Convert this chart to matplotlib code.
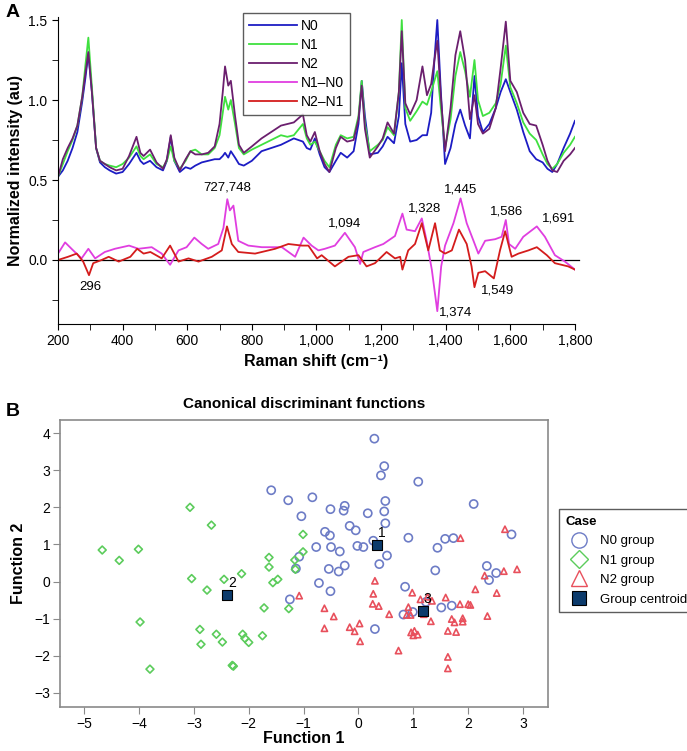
import numpy as np
import matplotlib
matplotlib.use('Agg')
import matplotlib.pyplot as plt
from matplotlib.ticker import FuncFormatter, MultipleLocator
from matplotlib.lines import Line2D

plt.rcParams['font.family'] = ['Liberation Sans', 'DejaVu Sans']

# ---- panel A: Raman spectra ----
shift = [200, 215, 230, 245, 260, 275, 285, 294, 305, 318, 330, 345, 360, 380, 400,
         420, 443, 455, 465, 485, 505, 525, 537, 549, 560, 577, 595, 610, 625, 645,
         665, 685, 700, 710, 717, 727, 735, 748, 760, 775, 800, 830, 860, 890, 910,
         930, 958, 970, 981, 995, 1010, 1025, 1040, 1060, 1075, 1095, 1115, 1130, 1140, 1150,
         1165, 1190, 1205, 1220, 1240, 1255, 1264, 1275, 1290, 1310, 1328, 1342, 1355, 1365, 1374,
         1385, 1398, 1415, 1430, 1445, 1460, 1475, 1489, 1500, 1515, 1535, 1555, 1570, 1586, 1600,
         1620, 1640, 1660, 1680, 1700, 1715, 1730, 1745, 1765, 1785, 1800]
n0 = [0.52, 0.56, 0.62, 0.70, 0.80, 0.99, 1.14, 1.29, 1.05, 0.70, 0.61, 0.58, 0.56, 0.54, 0.55,
      0.60, 0.67, 0.62, 0.60, 0.62, 0.58, 0.56, 0.62, 0.77, 0.62, 0.55, 0.58, 0.57, 0.59, 0.61,
      0.62, 0.63, 0.63, 0.65, 0.67, 0.64, 0.68, 0.64, 0.60, 0.59, 0.62, 0.68, 0.70, 0.72, 0.74,
      0.76, 0.74, 0.70, 0.69, 0.76, 0.66, 0.58, 0.55, 0.62, 0.67, 0.64, 0.68, 0.85, 1.12, 0.90,
      0.66, 0.67, 0.71, 0.77, 0.73, 0.90, 1.23, 0.85, 0.74, 0.75, 0.78, 0.78, 0.92, 1.25, 1.50,
      1.05, 0.60, 0.70, 0.85, 0.94, 0.84, 0.76, 1.15, 0.90, 0.80, 0.85, 0.95, 1.05, 1.13, 1.05,
      0.94, 0.80, 0.68, 0.63, 0.61, 0.57, 0.55, 0.60, 0.70, 0.79, 0.87]
n1 = [0.52, 0.60, 0.68, 0.75, 0.84, 1.02, 1.22, 1.39, 1.08, 0.70, 0.62, 0.60, 0.59, 0.58, 0.60,
      0.64, 0.71, 0.65, 0.63, 0.66, 0.60, 0.58, 0.62, 0.71, 0.62, 0.57, 0.62, 0.68, 0.69, 0.66,
      0.66, 0.70, 0.78, 0.92, 1.02, 0.94, 1.00, 0.85, 0.70, 0.66, 0.69, 0.72, 0.75, 0.78, 0.77,
      0.78, 0.85, 0.76, 0.72, 0.74, 0.68, 0.62, 0.58, 0.72, 0.78, 0.76, 0.77, 0.90, 1.12, 0.85,
      0.68, 0.72, 0.75, 0.83, 0.78, 1.05, 1.50, 0.95, 0.87, 0.93, 0.99, 0.97, 1.05, 1.12, 1.18,
      0.95, 0.70, 0.88, 1.15, 1.30, 1.18, 1.02, 1.25, 1.00, 0.90, 0.92, 0.98, 1.10, 1.34, 1.08,
      0.98, 0.86, 0.79, 0.75, 0.66, 0.60, 0.57, 0.60, 0.67, 0.72, 0.77]
n2 = [0.52, 0.63, 0.70, 0.76, 0.84, 1.02, 1.17, 1.30, 1.05, 0.70, 0.62, 0.60, 0.58, 0.56, 0.57,
      0.65, 0.77, 0.67, 0.65, 0.69, 0.61, 0.57, 0.63, 0.78, 0.64, 0.56, 0.63, 0.68, 0.66, 0.66,
      0.67, 0.71, 0.85, 1.05, 1.21, 1.09, 1.12, 0.90, 0.72, 0.67, 0.71, 0.76, 0.80, 0.84, 0.85,
      0.86, 0.91, 0.78, 0.74, 0.80, 0.68, 0.60, 0.55, 0.70, 0.77, 0.74, 0.75, 0.88, 1.09, 0.82,
      0.64, 0.71, 0.76, 0.86, 0.79, 1.05, 1.43, 0.98, 0.91, 1.00, 1.21, 1.03, 1.10, 1.25, 1.37,
      1.02, 0.68, 0.95, 1.28, 1.43, 1.25, 0.88, 1.03, 0.85, 0.79, 0.82, 0.95, 1.20, 1.49, 1.12,
      1.05, 0.92, 0.85, 0.84, 0.72, 0.62, 0.56, 0.55, 0.62, 0.66, 0.70]

diff_shift = [200, 222, 247, 273, 294, 315, 345, 376, 420, 449, 490, 521, 547, 573, 598,
              622, 645, 665, 696, 712, 724, 732, 743, 758, 789, 831, 893, 934, 960, 985,
              1006, 1026, 1057, 1088, 1119, 1135, 1145, 1181, 1207, 1243, 1266, 1279, 1305, 1326, 1341,
              1357, 1374, 1386, 1398, 1424, 1446, 1465, 1486, 1501, 1522, 1553, 1573, 1586, 1596, 1615,
              1640, 1682, 1707, 1738, 1769, 1800]
n1_n0 = [0.04, 0.11, 0.06, 0.01, 0.07, 0.01, 0.05, 0.07, 0.09, 0.07, 0.08, 0.04, -0.03, 0.06, 0.08,
         0.14, 0.10, 0.07, 0.10, 0.20, 0.38, 0.31, 0.34, 0.12, 0.09, 0.08, 0.08, 0.02, 0.14, 0.09,
         0.06, 0.07, 0.09, 0.17, 0.08, -0.025, 0.05, 0.08, 0.10, 0.15, 0.29, 0.19, 0.18, 0.26, 0.12,
         -0.06, -0.32, -0.04, 0.09, 0.23, 0.385, 0.23, 0.12, 0.04, 0.12, 0.13, 0.145, 0.25, 0.10, 0.07,
         0.145, 0.21, 0.145, 0.03, -0.01, -0.06]
red_shift = [200, 231, 258, 278, 296, 309, 335, 357, 388, 424, 445, 465, 486, 521, 547,
             573, 604, 635, 676, 707, 723, 738, 758, 810, 872, 913, 955, 975, 1002, 1016,
             1057, 1099, 1130, 1155, 1181, 1217, 1243, 1259, 1266, 1284, 1305, 1326, 1346, 1367, 1382,
             1398, 1419, 1441, 1465, 1480, 1489, 1501, 1522, 1549, 1568, 1584, 1604, 1625, 1656, 1682,
             1713, 1738, 1779, 1800]
n2_n1 = [0.0, 0.02, 0.04, -0.01, -0.095, -0.02, 0.0, 0.02, -0.01, 0.02, 0.07, 0.04, 0.05, 0.01, 0.09,
         -0.01, 0.01, -0.01, 0.02, 0.06, 0.21, 0.10, 0.05, 0.04, 0.07, 0.10, 0.09, 0.09, 0.01, 0.03,
         -0.04, 0.02, 0.03, -0.04, -0.02, 0.05, 0.01, 0.02, -0.06, 0.06, 0.10, 0.23, 0.06, 0.23, 0.06,
         0.04, 0.06, 0.19, 0.10, -0.04, -0.17, -0.08, -0.07, -0.115, 0.06, 0.18, 0.02, 0.04, 0.06, 0.08,
         0.03, -0.02, -0.04, -0.06]

peak_labels = ['727,748', '296', '1,094', '1,328', '1,445', '1,586', '1,691', '1,374', '1,549']
peak_x = [724, 299, 1088, 1334, 1446, 1589, 1749, 1429, 1561]
peak_y = [0.45, -0.17, 0.23, 0.32, 0.44, 0.30, 0.26, -0.33, -0.19]

# ---- panel B: discriminant scores ----
n0_f1 = [0.29, 0.47, 0.41, 1.09, -0.84, 2.10, 0.49, -1.59, -1.28, -0.51, -0.25, -0.27, 0.17, 0.47, 0.49,
         -1.04, -0.16, -0.05, -0.61, -0.52, -0.77, -0.50, -0.34, -0.02, 0.09, 0.27, 0.52, 0.38, -0.25, -0.54,
         -0.36, -0.72, -0.51, -1.08, -1.14, -1.25, 0.91, 1.58, 1.73, 1.44, 1.40, 0.85, 2.79, 2.34, 2.51,
         2.38, 1.51, 1.70, 0.82, 0.99, 1.23, 0.30]
n0_f2 = [3.85, 3.11, 2.86, 2.69, 2.27, 2.09, 2.17, 2.46, 2.19, 1.95, 2.04, 1.91, 1.84, 1.89, 1.57,
         1.76, 1.50, 1.38, 1.34, 1.24, 0.93, 0.93, 0.81, 0.96, 0.93, 1.10, 0.70, 0.47, 0.43, 0.34,
         0.27, -0.04, -0.26, 0.67, 0.35, -0.48, 1.18, 1.15, 1.17, 0.91, 0.30, -0.14, 1.27, 0.42, 0.23,
         0.04, -0.70, -0.65, -0.89, -0.82, -0.55, -1.28]
n1_f1 = [-3.07, -2.68, -4.67, -4.36, -4.01, -3.04, -2.76, -2.45, -2.13, -1.63, -1.63, -1.47, -1.56, -1.72, -1.27,
         -3.98, -2.89, -2.59, -2.87, -2.48, -2.11, -2.07, -2.00, -1.75, -3.80, -2.30, -2.28, -1.16, -1.01, -1.01,
         -1.15]
n1_f2 = [2.00, 1.52, 0.85, 0.57, 0.87, 0.08, -0.23, 0.06, 0.21, 0.65, 0.39, 0.06, -0.03, -0.71, -0.73,
         -1.09, -1.29, -1.42, -1.69, -1.63, -1.42, -1.53, -1.64, -1.46, -2.36, -2.26, -2.28, 0.58, 1.27, 0.80,
         0.33]
n2_f1 = [2.67, 1.86, 2.89, 2.65, 2.30, 2.13, 2.52, 2.35, 2.00, 2.04, 1.85, 1.59, 1.70, 1.75, 1.90,
         1.90, 1.63, 1.78, 1.63, 1.63, 1.26, 1.34, 1.13, 0.98, 0.91, 0.88, 0.95, 1.19, 1.32, 0.96,
         1.02, 1.08, 1.00, 0.73, 0.30, 0.27, 0.26, 0.37, 0.56, 0.02, -0.16, -0.07, 0.03, -0.45, -0.62,
         -0.62, -1.08]
n2_f2 = [1.41, 1.17, 0.33, 0.28, 0.16, -0.21, -0.31, -0.93, -0.61, -0.63, -0.61, -0.43, -1.01, -1.10, -0.99,
         -1.08, -1.33, -1.36, -2.03, -2.34, -0.41, -0.52, -0.48, -0.30, -0.69, -0.90, -0.90, -0.88, -1.07, -1.37,
         -1.33, -1.43, -1.45, -1.86, 0.02, -0.33, -0.60, -0.66, -0.88, -1.13, -1.23, -1.34, -1.61, -0.94, -0.72,
         -1.26, -0.38]
centroid_f1 = [0.33, -2.39, 1.17]
centroid_f2 = [0.99, -0.37, -0.79]
centroid_names = ['1', '2', '3']

fig = plt.figure(figsize=(6.87, 7.51), dpi=100)

# ================= A =================
ax = fig.add_axes([0.0844, 0.5686, 0.7525, 0.409])
ax.plot(shift, n0, color='#1c1cc4', lw=1.3, label='N0')
ax.plot(shift, n1, color='#3fe03f', lw=1.3, label='N1')
ax.plot(shift, n2, color='#6b1f6e', lw=1.3, label='N2')
ax.plot(diff_shift, n1_n0, color='#e03ee0', lw=1.3, label='N1\u2013N0')
ax.plot(red_shift, n2_n1, color='#d41c1c', lw=1.3, label='N2\u2013N1')
ax.plot([200, 1812], [0, 0], color='black', lw=0.9, clip_on=False, zorder=1)

for lab, px, py in zip(peak_labels, peak_x, peak_y):
    ax.text(px, py, lab, ha='center', va='center', fontsize=9.5)

ax.set_xlim(200, 1800)
ax.set_ylim(-0.4, 1.52)
ax.spines['top'].set_visible(False)
ax.spines['right'].set_visible(False)
ax.xaxis.set_major_locator(MultipleLocator(200))
ax.xaxis.set_minor_locator(MultipleLocator(100))
ax.yaxis.set_major_locator(MultipleLocator(0.5))
ax.yaxis.set_minor_locator(MultipleLocator(0.25))
ax.xaxis.set_major_formatter(FuncFormatter(lambda v, p: f'{v:,.0f}'))
ax.yaxis.set_major_formatter(FuncFormatter(lambda v, p: f'{v:.1f}'))
ax.tick_params(which='both', direction='out', labelsize=10, length=4)
ax.set_xlabel('Raman shift (cm\u207b\u00b9)', fontsize=11.5, fontweight='bold', labelpad=4)
ax.set_ylabel('Normalized intensity (au)', fontsize=11.5, fontweight='bold', labelpad=4)

leg = ax.legend(loc='upper left', bbox_to_anchor=(0.358, 1.013), borderaxespad=0,
                fontsize=10, handlelength=3.4, handletextpad=0.3, labelspacing=0.36,
                fancybox=False, edgecolor='#333333', borderpad=0.45)
leg.get_frame().set_linewidth(1.0)

fig.text(0.008, 0.984, 'A', fontsize=14, fontweight='bold', va='center')

# ================= B =================
bx = fig.add_axes([0.0873, 0.0586, 0.710, 0.382])
bx.scatter(n0_f1, n0_f2, s=34, facecolors='none', edgecolors='#6d7cc6', linewidths=1.2, zorder=3)
bx.scatter(n1_f1, n1_f2, s=16, marker='D', facecolors='none', edgecolors='#5ccc5c', linewidths=1.2, zorder=3)
bx.scatter(n2_f1, n2_f2, s=20, marker='^', facecolors='none', edgecolors='#e8505c', linewidths=1.2, zorder=3)
bx.scatter(centroid_f1, centroid_f2, s=55, marker='s', color='#0c3b6c', edgecolors='black',
           linewidths=0.8, zorder=4)
for name, cx, cy in zip(centroid_names, centroid_f1, centroid_f2):
    bx.text(cx + 0.09, cy + 0.33, name, fontsize=10, ha='center', va='center', zorder=5)

bx.set_xlim(-5.44, 3.45)
bx.set_ylim(-3.38, 4.35)
bx.set_xticks(range(-5, 4))
bx.set_yticks(range(-3, 5))
for sp in bx.spines.values():
    sp.set_color('#8a8a8a')
    sp.set_linewidth(1.2)
bx.tick_params(direction='out', length=5, color='#8a8a8a', labelsize=10, pad=2)
bx.set_xlabel('Function 1', fontsize=11.5, fontweight='bold', labelpad=0)
bx.set_ylabel('Function 2', fontsize=11.5, fontweight='bold', labelpad=6)
bx.set_title('Canonical discriminant functions', fontsize=11, fontweight='bold', pad=9)

handles = [
    Line2D([], [], ls='none', marker='o', ms=11, mfc='none', mec='#6d7cc6', mew=1.0),
    Line2D([], [], ls='none', marker='D', ms=9, mfc='none', mec='#5ccc5c', mew=1.0),
    Line2D([], [], ls='none', marker='^', ms=11, mfc='none', mec='#e8505c', mew=1.0),
    Line2D([], [], ls='none', marker='s', ms=10, mfc='#0c3b6c', mec='black', mew=0.8),
]
leg2 = bx.legend(handles, ['N0 group', 'N1 group', 'N2 group', 'Group centroid'],
                 loc='upper left', bbox_to_anchor=(0.8137, 0.3222), bbox_transform=fig.transFigure,
                 borderaxespad=0, title='Case', fontsize=9.5, title_fontproperties={'weight': 'bold', 'size': 9.5},
                 alignment='left', fancybox=False, edgecolor='#333333', labelspacing=0.55,
                 handletextpad=0.6, borderpad=0.5)
leg2.get_frame().set_linewidth(1.0)

fig.text(0.008, 0.452, 'B', fontsize=14, fontweight='bold', va='center')

fig.savefig('out.png', dpi=100)
